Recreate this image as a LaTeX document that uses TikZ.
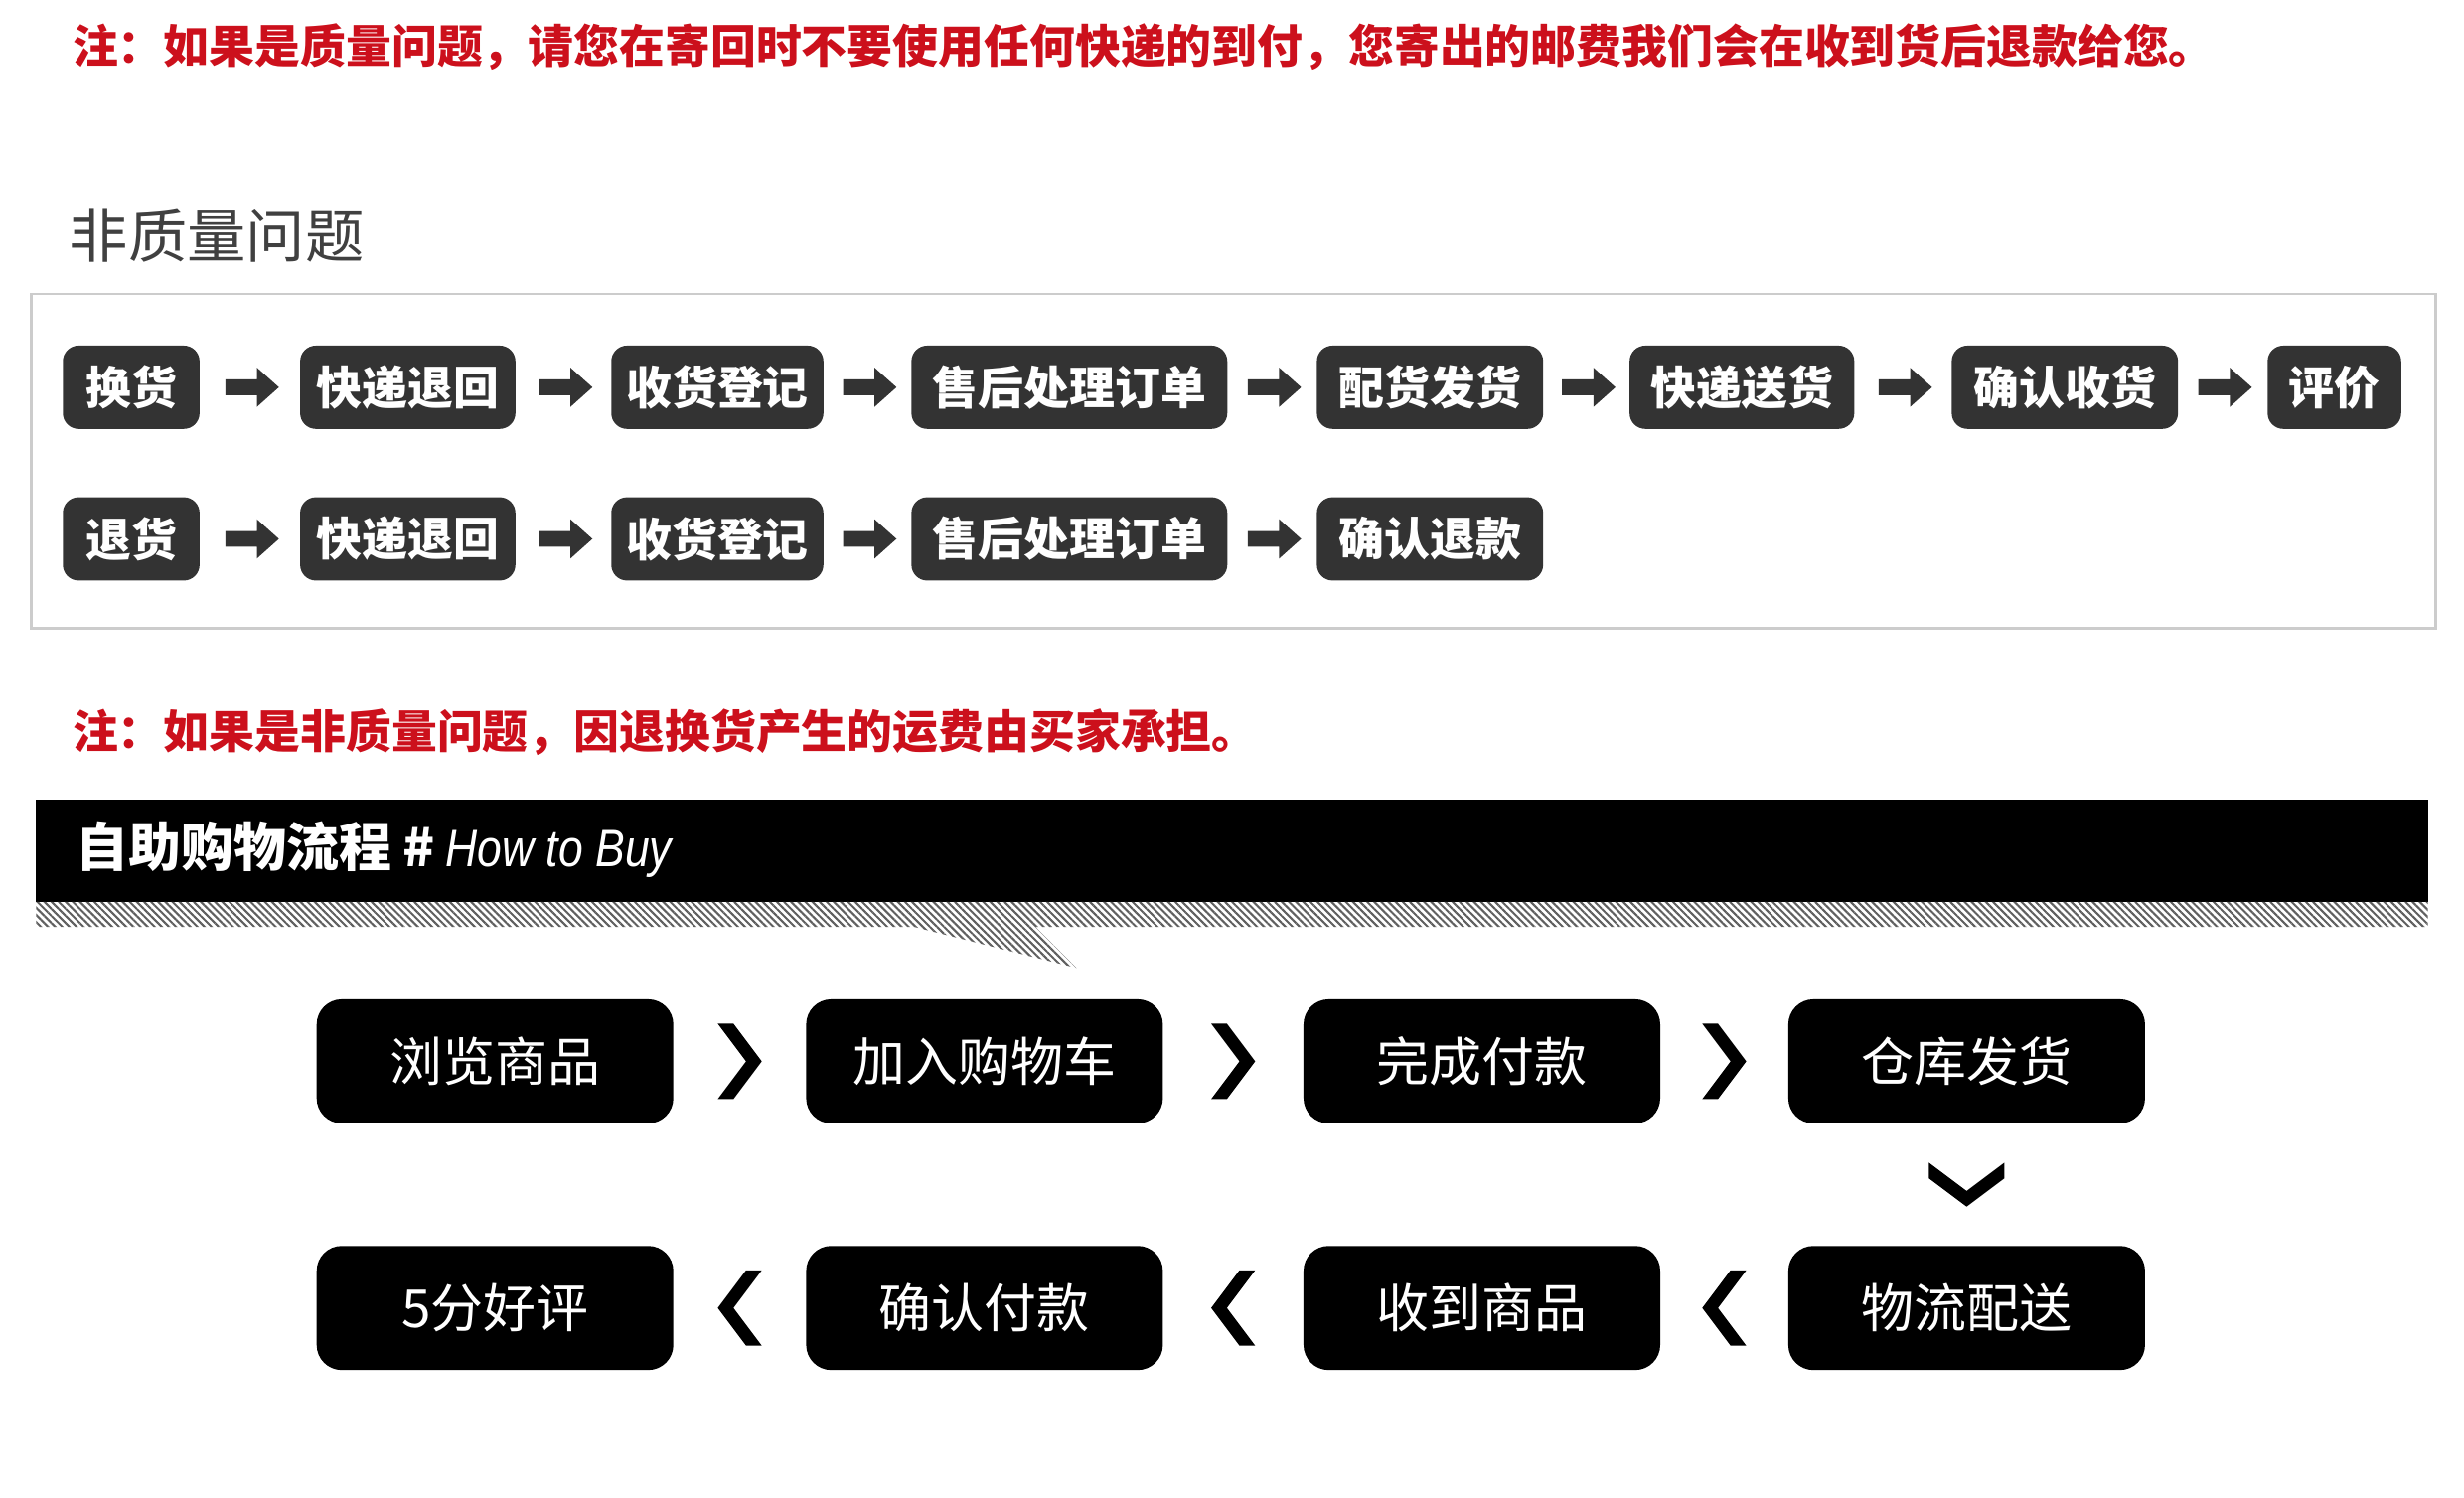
\documentclass[tikz,border=0pt]{standalone}
\usepackage{fontspec}
\setmainfont{Noto Sans CJK SC}
\newfontfamily\htbfont[FakeStretch=0.84]{Liberation Sans}
\usetikzlibrary{calc,patterns.meta}
\definecolor{notered}{RGB}{204,16,28}
\definecolor{boxgray}{RGB}{51,51,51}
\definecolor{headgray}{RGB}{64,64,64}
\definecolor{framegray}{RGB}{204,204,204}
\definecolor{hatchgray}{RGB}{95,95,95}
\begin{document}
\begin{tikzpicture}[x=1pt,y=-1pt,
  note/.style={anchor=west,inner sep=0pt,text=notered,font=\fontsize{29}{34}\selectfont\bfseries},
  stepbox/.style={fill=boxgray,rounded corners=10pt,text=white,inner sep=0pt,minimum height=53pt,minimum width=#1,font=\fontsize{29}{34}\selectfont\bfseries},
  flowbox/.style={fill=black,rounded corners=16pt,text=white,inner sep=0pt,minimum height=79pt,minimum width=227pt,font=\fontsize{33.5}{40}\selectfont},
  barrow/.pic={\fill[boxgray] (-17,-5) -- (3,-5) -- (3,-12.5) -- (17,0) -- (3,12.5) -- (3,5) -- (-17,5) -- cycle;},
  chevR/.pic={\fill[black] (-14,-24) -- (-4,-24) -- (14,0) -- (-4,24) -- (-14,24) -- (4,0) -- cycle;},
  chevL/.pic={\fill[black] (14,-24) -- (4,-24) -- (-14,0) -- (4,24) -- (14,24) -- (-4,0) -- cycle;},
  chevD/.pic={\fill[black] (-24,-14) -- (0,4) -- (24,-14) -- (24,-4) -- (0,14) -- (-24,-4) -- cycle;}
]
\useasboundingbox (0,0) rectangle (1568,953);
\fill[white] (0,0) rectangle (1568,953);

% top note
\node[note] (note1) at (46,30) {注：如果是质量问题，请您在寄回时不要使用任何快递的到付，您寄出的邮费我们会在收到货后退款给您。};

% heading
\node[anchor=west,inner sep=0pt,text=headgray,font=\fontsize{37.5}{44}\selectfont] (head) at (44,150) {非质量问题};

% frame
\draw[framegray,line width=1.5pt] (20,187) rectangle (1550,400);

% row 1
\node[stepbox=87pt]  (r1a) at (83.5,246.5)  {换货};
\node[stepbox=137pt] (r1b) at (259.5,246.5) {快递退回};
\node[stepbox=135pt] (r1c) at (456.5,246.5) {收货登记};
\node[stepbox=201pt] (r1d) at (680.5,246.5) {售后处理订单};
\node[stepbox=144pt] (r1e) at (910,246.5)   {配货发货};
\node[stepbox=143pt] (r1f) at (1108.5,246.5){快递送货};
\node[stepbox=144pt] (r1g) at (1314,246.5)  {确认收货};
\node[stepbox=85pt]  (r1h) at (1485.5,246.5){评价};
\foreach \a/\b in {r1a/r1b,r1b/r1c,r1c/r1d,r1d/r1e,r1e/r1f,r1f/r1g,r1g/r1h}
  \pic at ($(\a.east)!0.5!(\b.west)+(1.5,0)$) {barrow};

% row 2
\node[stepbox=87pt]  (r2a) at (83.5,343)  {退货};
\node[stepbox=137pt] (r2b) at (259.5,343) {快递退回};
\node[stepbox=135pt] (r2c) at (456.5,343) {收货登记};
\node[stepbox=201pt] (r2d) at (680.5,343) {售后处理订单};
\node[stepbox=144pt] (r2e) at (910,343)   {确认退款};
\foreach \a/\b in {r2a/r2b,r2b/r2c,r2c/r2d,r2d/r2e}
  \pic at ($(\a.east)!0.5!(\b.west)+(1.5,0)$) {barrow};

% second note
\node[note] (note2) at (46,466) {注：如果是非质量问题，因退换货产生的运费由买家承担。};

% banner
\fill[black] (23,509) rectangle (1545,574);
\fill[pattern={Lines[angle=-45,distance=3.2pt,line width=1.3pt]},pattern color=hatchgray]
  (23,574) -- (1545,574) -- (1545,590) -- (659,590) -- (685,616) -- (582,590) -- (23,590) -- cycle;
\node[anchor=west,inner sep=0pt,text=white,font=\fontsize{33.5}{40}\selectfont\bfseries] (title) at (48,541)
  {自助购物流程\hspace{7pt}\#\hspace{7pt}{\htbfont\mdseries\itshape How to Buy}};

% flow
\node[flowbox] (b1) at (315,675.5)    {浏览商品};
\node[flowbox] (b2) at (626.5,675.5)  {加入购物车};
\node[flowbox] (b3) at (943,675.5)    {完成付款};
\node[flowbox] (b4) at (1251.5,675.5) {仓库发货};
\node[flowbox] (b5) at (1251.5,832.5) {物流配送};
\node[flowbox] (b6) at (943,832.5)    {收到商品};
\node[flowbox] (b7) at (626.5,832.5)  {确认付款};
\node[flowbox] (b8) at (315,832.5)    {5分好评};
\foreach \a/\b in {b1/b2,b2/b3,b3/b4}
  \pic at ($(\a.east)!0.5!(\b.west)$) {chevR};
\pic at ($(b4.south)!0.5!(b5.north)$) {chevD};
\foreach \a/\b in {b5/b6,b6/b7,b7/b8}
  \pic at ($(\a.west)!0.5!(\b.east)$) {chevL};
\end{tikzpicture}
\end{document}
